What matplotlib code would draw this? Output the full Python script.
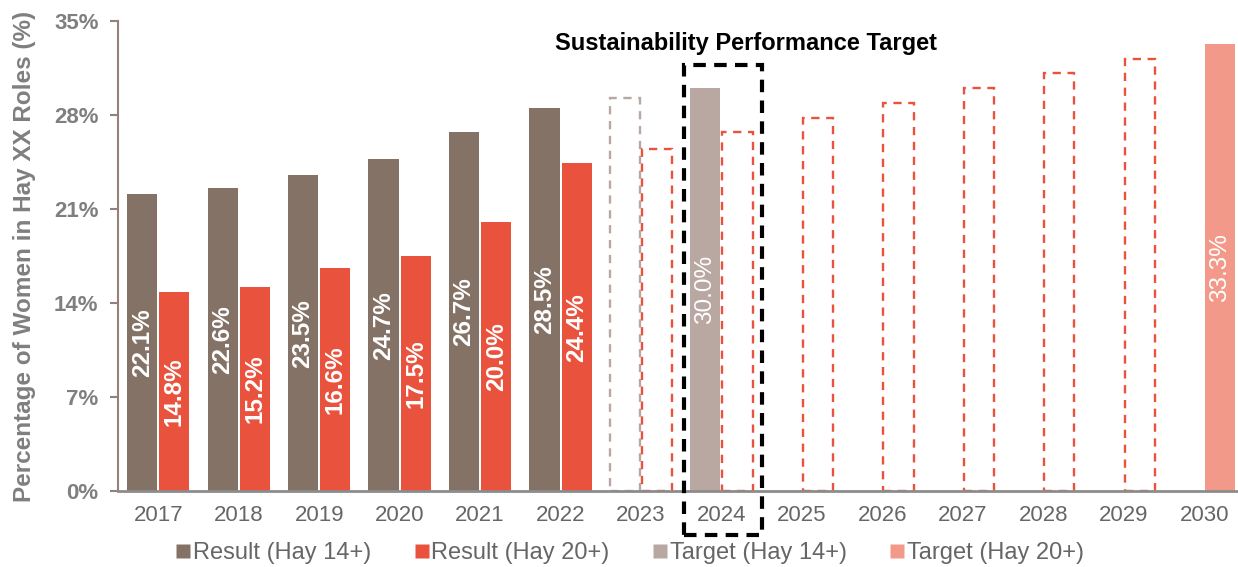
import matplotlib
matplotlib.use("Agg")
import matplotlib.pyplot as plt
from matplotlib.patches import Rectangle
from matplotlib.lines import Line2D
import numpy as np

plt.rcParams['font.family'] = ['Liberation Sans', 'DejaVu Sans']

# ---- data ----
years = ["2017", "2018", "2019", "2020", "2021", "2022", "2023",
         "2024", "2025", "2026", "2027", "2028", "2029", "2030"]
result_14 = [22.1, 22.6, 23.5, 24.7, 26.7, 28.5, None, None, None, None, None, None, None, None]
result_20 = [14.8, 15.2, 16.6, 17.5, 20.0, 24.4, None, None, None, None, None, None, None, None]
target_14 = [None, None, None, None, None, None, 29.3, 30.0, None, None, None, None, None, None]
target_20 = [None, None, None, None, None, None, 25.5, 26.7, 27.8, 28.9, 30.0, 31.1, 32.2, 33.3]
target_14_labelled = ["2024"]   # filled (labelled) target bars
target_20_labelled = ["2030"]
highlight_year = "2024"
yticks = [0, 7, 14, 21, 28, 35]
legend_labels = ["Result (Hay 14+)", "Result (Hay 20+)", "Target (Hay 14+)", "Target (Hay 20+)"]
title = "Sustainability Performance Target"
ylabel = "Percentage of Women in Hay XX Roles (%)"

# ---- style ----
c_r14 = "#857266"
c_r20 = "#E9533E"
c_t14 = "#B8A8A1"
c_t20 = "#F2998A"
grey = "#7F7F7F"

fig = plt.figure(figsize=(12.38, 5.67), dpi=100)
ax = fig.add_axes([118/1238, 1-491/567, 1-118/1238, (491-21)/567])

x = np.arange(len(years))
w = 0.375
off = 0.2
lab_fs = 17.5


def draw_series(vals, xs_off, fill_color, edge_color, labelled=None, bold=True):
    for i, v in enumerate(vals):
        if v is None:
            continue
        xi = x[i] + xs_off
        filled = labelled is None or years[i] in labelled
        if filled:
            ax.bar(xi, v, width=w, color=fill_color, edgecolor='none', zorder=3)
            ax.text(xi, v/2, f"{v:.1f}%", rotation=90, ha='center', va='center',
                    color='white', fontsize=lab_fs,
                    fontweight='bold' if bold else 'normal', zorder=4)
        else:
            ax.bar(xi, v, width=w, facecolor='none', edgecolor=edge_color,
                   linewidth=1.7, linestyle=(0, (3.5, 2.8)), zorder=2)


draw_series(result_14, -off, c_r14, c_r14)
draw_series(result_20, off, c_r20, c_r20)
draw_series(target_14, -off, c_t14, c_t14, target_14_labelled, bold=False)
draw_series(target_20, off, c_t20, c_r20, target_20_labelled, bold=False)

ax.set_xlim(-0.5, 13.42)
ax.set_ylim(0, 35)
ax.set_yticks(yticks)
ax.set_yticklabels([f"{t}%" for t in yticks])
ax.set_xticks(x)
ax.set_xticklabels(years)

for s in ['top', 'right']:
    ax.spines[s].set_visible(False)
ax.spines['left'].set_color("#94817A")
ax.spines['left'].set_linewidth(1.5)
ax.spines['bottom'].set_color("#8C8C8C")
ax.spines['bottom'].set_linewidth(2)
ax.spines['bottom'].set_zorder(5)

ax.tick_params(axis='y', direction='out', length=6, width=1.5, color="#94817A",
               labelcolor=grey, labelsize=16, pad=8)
for lab in ax.get_yticklabels():
    lab.set_fontweight('bold')
ax.tick_params(axis='x', length=0, labelcolor="#666666", labelsize=16, pad=10)

ax.set_ylabel(ylabel, color=grey, fontsize=17.5, fontweight='bold')
ax.yaxis.set_label_coords(-0.073, 0.5)

# highlight box
hi = years.index(highlight_year)
rect = Rectangle((hi - 0.46, -3.3), 0.96, 35.0, fill=False, edgecolor='black',
                 linewidth=3, linestyle=(0, (3, 2)), clip_on=False, zorder=6)
ax.add_patch(rect)
ax.text(hi + 0.3, 32.5, title, ha='center', va='bottom', fontsize=17,
        fontweight='bold', color='black')

handles = [Line2D([], [], marker='s', linestyle='none', markersize=10,
                  markerfacecolor=c, markeredgecolor='none')
           for c in [c_r14, c_r20, c_t14, c_t20]]
fig.legend(handles, legend_labels, loc='center', bbox_to_anchor=(0.508, 1-553/567),
           ncol=4, frameon=False, fontsize=17, labelcolor="#666666",
           handletextpad=0.0, columnspacing=1.75, handlelength=0.8)

fig.savefig("out.png", dpi=100)
